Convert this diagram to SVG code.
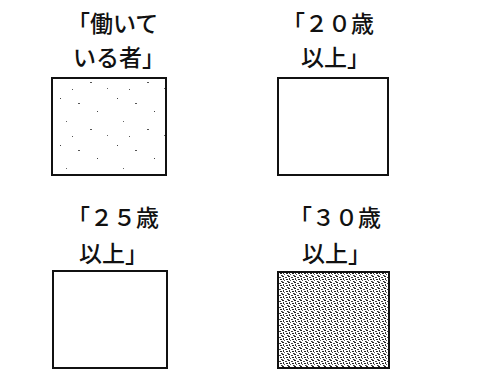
<svg xmlns="http://www.w3.org/2000/svg" width="485" height="369" viewBox="0 0 485 369">
<style>
.lbl{font-family:"Noto Sans CJK JP","Noto Sans CJK SC",sans-serif;font-size:23px;font-weight:500;fill:#111}
.box{stroke:#111;stroke-width:2}
</style>
<defs>
<pattern id="light" width="57" height="47" patternUnits="userSpaceOnUse">
<rect x="3" y="4" width="1" height="1" fill="#444"/>
<rect x="21" y="9" width="2" height="1" fill="#555"/>
<rect x="9" y="27" width="1" height="1" fill="#666"/>
<rect x="40" y="17" width="1" height="1" fill="#444"/>
<rect x="33" y="35" width="2" height="1" fill="#555"/>
<rect x="50" y="41" width="1" height="1" fill="#666"/>
<rect x="15" y="42" width="1" height="1" fill="#555"/>
</pattern>
<pattern id="dense" width="6" height="6" patternUnits="userSpaceOnUse">
<rect width="6" height="6" fill="#fff"/>
<rect x="0" y="0" width="2" height="1" fill="#222"/>
<rect x="3" y="1" width="2" height="1" fill="#444"/>
<rect x="1" y="2" width="1" height="2" fill="#333"/>
<rect x="4" y="3" width="2" height="1" fill="#222"/>
<rect x="2" y="4" width="1" height="1" fill="#555"/>
<rect x="5" y="5" width="1" height="1" fill="#333"/>
<rect x="0" y="5" width="1" height="1" fill="#666"/>
</pattern>
</defs>
<g id="node-working">
<text class="lbl" x="67" y="32">「働いて</text>
<text class="lbl" x="73" y="66">いる者」</text>
<rect class="box" x="52" y="78" width="114" height="97" fill="url(#light)"/>
</g>
<g id="node-20">
<text class="lbl" x="282" y="32">「２０歳</text>
<text class="lbl" x="301" y="66">以上」</text>
<rect class="box" x="278" y="78" width="110" height="97" fill="#fff"/>
</g>
<g id="node-25">
<text class="lbl" x="67" y="226">「２５歳</text>
<text class="lbl" x="79" y="262">以上」</text>
<rect class="box" x="53" y="271" width="114" height="97" fill="#fff"/>
</g>
<g id="node-30">
<text class="lbl" x="289" y="226">「３０歳</text>
<text class="lbl" x="302" y="262">以上」</text>
<rect class="box" x="278" y="272" width="111" height="96" fill="url(#dense)"/>
</g>
<g id="connectors"></g>
</svg>
